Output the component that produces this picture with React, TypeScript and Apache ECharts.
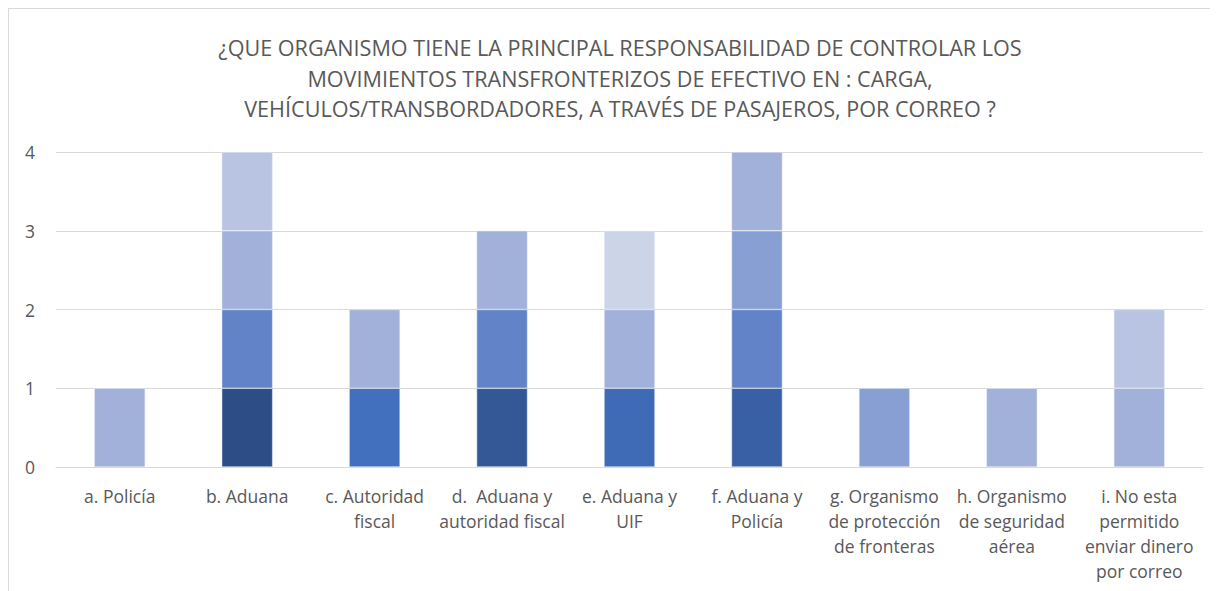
import React, { useEffect, useRef } from "react";
import * as echarts from "echarts";

const TITLE_LINES = [
  "¿QUE ORGANISMO TIENE LA PRINCIPAL RESPONSABILIDAD DE CONTROLAR LOS",
  "MOVIMIENTOS TRANSFRONTERIZOS DE EFECTIVO EN : CARGA,",
  "VEHÍCULOS/TRANSBORDADORES, A TRAVÉS DE PASAJEROS, POR CORREO ?",
];

const categories = [
  "a. Policía",
  "b. Aduana",
  "c. Autoridad\nfiscal",
  "d.  Aduana y\nautoridad fiscal",
  "e. Aduana y\nUIF",
  "f. Aduana y\nPolicía",
  "g. Organismo\nde protección\nde fronteras",
  "h. Organismo\nde seguridad\naérea",
  "i. No esta\npermitido\nenviar dinero\npor correo",
];

// stacked segments, bottom to top
const level1 = [1, 1, 1, 1, 1, 1, 1, 1, 1];
const level2 = [0, 1, 1, 1, 1, 1, 0, 0, 1];
const level3 = [0, 1, 0, 1, 1, 1, 0, 0, 0];
const level4 = [0, 1, 0, 0, 0, 1, 0, 0, 0];

const yTicks = [0, 1, 2, 3, 4];

// segment colours (style)
const colors1 = ["#A1B1DA", "#2C4D86", "#4270BF", "#345896", "#3F6AB5", "#395FA5", "#889FD4", "#A1B1DA", "#A1B1DA"];
const colors2 = ["#A1B1DA", "#6283C8", "#A1B1DA", "#6283C8", "#A1B1DA", "#6283C8", "#A1B1DA", "#A1B1DA", "#B8C4E2"];
const colors3 = ["#A1B1DA", "#A1B1DA", "#A1B1DA", "#A1B1DA", "#CCD4E8", "#889FD4", "#A1B1DA", "#A1B1DA", "#A1B1DA"];
const colors4 = ["#B8C4E2", "#B8C4E2", "#B8C4E2", "#B8C4E2", "#B8C4E2", "#A1B1DA", "#B8C4E2", "#B8C4E2", "#B8C4E2"];

const FONT = "'Open Sans', 'Noto Sans', sans-serif";

export default function App() {
  const ref = useRef<HTMLDivElement>(null);
  useEffect(() => {
    if (!ref.current) return;
    const chart = echarts.init(ref.current, null, { renderer: "svg" });
    const levels = [level1, level2, level3, level4];
    const cols = [colors1, colors2, colors3, colors4];
    const series = levels.map((lv, k) => ({
      name: "Nivel " + (k + 1),
      type: "bar" as const,
      stack: "total",
      barCategoryGap: "60%",
      data: lv.map((v, i) =>
        v > 0
          ? { value: v, itemStyle: { color: cols[k][i] } }
          : { value: null }
      ),
      itemStyle: { borderColor: "rgba(235,240,250,0.8)", borderWidth: 0.6 },
      emphasis: { disabled: true },
    }));
    chart.setOption({
      animation: false,
      backgroundColor: "#ffffff",
      textStyle: { fontFamily: FONT },
      graphic: [
        {
          type: "text",
          x: 611,
          y: 69,
          style: {
            text: TITLE_LINES.join("\n"),
            align: "center",
            verticalAlign: "middle",
            fill: "#595959",
            font: `21.6px ${FONT}`,
            lineHeight: 30.5,
          },
        },
      ],
      grid: { left: 47, right: 15, top: 143, bottom: 124, containLabel: false },
      xAxis: {
        type: "category",
        data: categories,
        axisLine: { show: true, lineStyle: { color: "#d9d9d9", width: 1 } },
        axisTick: { show: false },
        axisLabel: {
          color: "#595959",
          fontSize: 17.5,
          fontFamily: FONT,
          lineHeight: 25,
          margin: 16,
          interval: 0,
          align: "center",
        },
      },
      yAxis: {
        type: "value",
        min: yTicks[0],
        max: yTicks[yTicks.length - 1],
        interval: 1,
        axisLine: { show: false },
        axisTick: { show: false },
        splitLine: { lineStyle: { color: "#d9d9d9", width: 1 } },
        axisLabel: { color: "#595959", fontSize: 17.5, fontFamily: FONT, margin: 21 },
      },
      series,
    });
    return () => chart.dispose();
  }, []);
  return (
    <div
      ref={ref}
      style={{
        width: 1210,
        height: 583,
        borderTop: "1px solid #d9d9d9",
        borderLeft: "1px solid #d9d9d9",
        boxSizing: "border-box",
      }}
    />
  );
}
